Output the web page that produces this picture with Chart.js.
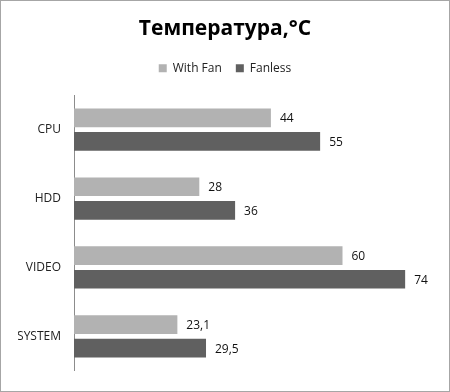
<!DOCTYPE html>
<html>
<head>
<meta charset="utf-8">
<script src="https://cdn.jsdelivr.net/npm/chart.js@4"></script>
<style>
    html, body { margin: 0; padding: 0; background: #fff; }
    #wrap { width: 448px; height: 390px; border: 1px solid #a6a6a6; position: relative; }
    canvas { display: block; }
</style>
</head>
<body>
<div id="wrap"><canvas id="tempChart" width="448" height="390"></canvas></div>
<script>
const categories = ['CPU', 'HDD', 'VIDEO', 'SYSTEM']
const withFan = [44, 28, 60, 23.1]
const fanless = [55, 36, 74, 29.5]
const seriesNames = ['With Fan', 'Fanless']

// draws the value next to each bar, with comma decimals like the original
const valueLabels = {
    id: 'valueLabels',
    afterDatasetsDraw(chart) {
        const ctx = chart.ctx
        ctx.save()
        ctx.font = '12px "Open Sans", sans-serif'
        ctx.fillStyle = '#111'
        ctx.textBaseline = 'middle'
        chart.data.datasets.forEach((ds, i) => {
            chart.getDatasetMeta(i).data.forEach((bar, j) => {
                const txt = String(ds.data[j]).replace('.', ',')
                ctx.fillText(txt, bar.x + 9, bar.y + 1)
            })
        })
        ctx.restore()
    }
}

// extra room under the legend
const legendGap = {
    id: 'legendGap',
    beforeInit(chart) {
        const fit = chart.legend.fit
        chart.legend.fit = function () {
            fit.bind(chart.legend)()
            this.height += 11
        }
    }
}

new Chart(document.getElementById('tempChart').getContext('2d'), {
    type: 'bar',
    plugins: [valueLabels, legendGap],
    data: {
        labels: categories,
        datasets: [{
            label: seriesNames[0],
            data: withFan,
            backgroundColor: '#b2b2b2',
            categoryPercentage: 0.684,
            barPercentage: 0.79
        }, {
            label: seriesNames[1],
            data: fanless,
            backgroundColor: '#606060',
            categoryPercentage: 0.684,
            barPercentage: 0.79
        }]
    },
    options: {
        responsive: false,
        animation: false,
        indexAxis: 'y',
        layout: {
            padding: { left: 17, right: 17, top: 15, bottom: 12 }
        },
        scales: {
            x: {
                display: false,
                min: 0,
                max: 80
            },
            y: {
                grid: { display: false, drawTicks: false },
                border: { display: true, color: '#8c8c8c', width: 1 },
                ticks: {
                    color: '#222',
                    font: { family: '"Open Sans", sans-serif', size: 12 },
                    padding: 13
                },
                afterFit(scale) {
                    scale.width = 56
                }
            }
        },
        plugins: {
            title: {
                display: true,
                text: 'Температура,°C',
                color: '#000',
                font: { family: '"Open Sans", sans-serif', size: 21, weight: 'bold' },
                padding: { top: 0, bottom: 7 }
            },
            legend: {
                position: 'top',
                labels: {
                    boxWidth: 8,
                    boxHeight: 8,
                    color: '#222',
                    font: { family: '"Open Sans", sans-serif', size: 12 },
                    padding: 14
                }
            },
            tooltip: { enabled: false }
        }
    }
})
</script>
</body>
</html>
